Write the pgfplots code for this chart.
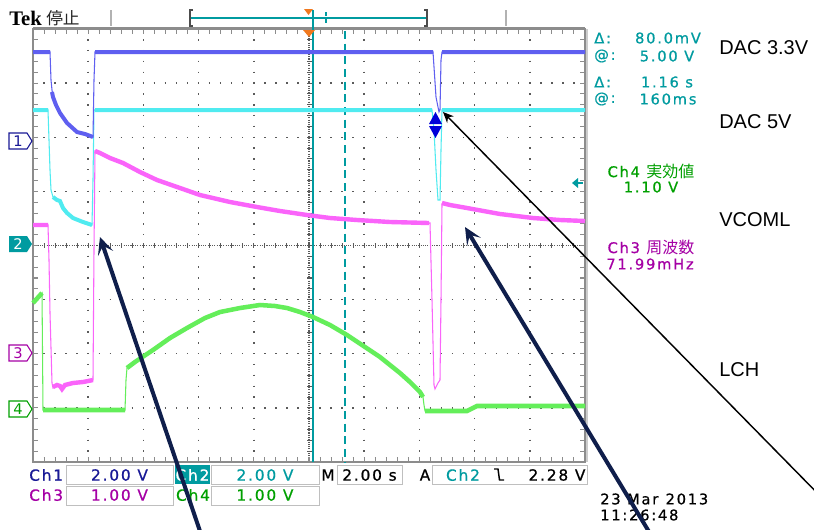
\documentclass[border=0pt]{standalone}
\usepackage{pgfplots}
\pgfplotsset{compat=1.18}
\usepackage{fontspec}
\setmainfont{DejaVu Sans}
\newfontfamily\tek[LetterSpace=12,FakeBold=0.7]{DejaVu Sans}
\newfontfamily\lab{Liberation Sans}
\newfontfamily\tekser{Liberation Serif}
\newfontfamily\cjk{Noto Sans CJK JP}
\usetikzlibrary{arrows.meta}
\definecolor{cha}{RGB}{95,95,240}
\definecolor{chb}{RGB}{80,235,240}
\definecolor{chc}{RGB}{250,100,250}
\definecolor{chd}{RGB}{100,238,90}
\definecolor{teal2}{RGB}{0,155,160}
\definecolor{tgreen}{RGB}{0,160,0}
\definecolor{tmag}{RGB}{165,0,165}
\definecolor{tblue}{RGB}{25,25,150}
\definecolor{navy2}{RGB}{15,30,75}
\definecolor{orng}{RGB}{240,120,30}
\definecolor{framec}{RGB}{140,140,140}
\definecolor{gdot}{RGB}{90,90,90}
\begin{document}
\begin{tikzpicture}
\useasboundingbox (0,0) rectangle (610.5pt,-396.75pt);
\fill[white] (0,0) rectangle (610.5pt,-396.75pt);
\begin{scope}[x=0.75pt,y=-0.75pt]
% graticule
\foreach \i in {1,2,3,4,6,7,8,9} {
  \draw[gdot, line width=1.1pt, dash pattern=on 1.1pt off 7.019pt, dash phase=0.55pt] ({33+55.2*\i},29) -- ({33+55.2*\i},462);
}
\foreach \j in {1,2,3,5,6,7} {
  \draw[gdot, line width=1.1pt, dash pattern=on 1.1pt off 7.18pt, dash phase=0.55pt] (33,{29+54.125*\j}) -- (585,{29+54.125*\j});
}
\draw[gdot, line width=0.8pt, dash pattern=on 0.8pt off 0.9pt] (33,245.5) -- (585,245.5);
\draw[gdot, line width=0.8pt, dash pattern=on 0.8pt off 0.9pt] (309,29) -- (309,462);
\draw[gdot, line width=3.75pt, dash pattern=on 0.8pt off 7.48pt, dash phase=0.4pt] (33,245.5) -- (585,245.5);
\draw[gdot, line width=3.75pt, dash pattern=on 0.8pt off 7.319pt, dash phase=0.4pt] (309,29) -- (309,462);
% frame ticks
\draw[framec, line width=3pt, dash pattern=on 0.8pt off 7.48pt, dash phase=0.4pt] (33,32) -- (585,32);
\draw[framec, line width=3pt, dash pattern=on 0.8pt off 7.48pt, dash phase=0.4pt] (33,459) -- (585,459);
\draw[framec, line width=3pt, dash pattern=on 0.8pt off 7.319pt, dash phase=0.4pt] (36,29) -- (36,462);
\draw[framec, line width=3pt, dash pattern=on 0.8pt off 7.319pt, dash phase=0.4pt] (582,29) -- (582,462);
\draw[framec, line width=1.6pt] (33,29) rectangle (585,462);
\draw[framec, line width=1.2pt] (33,28) -- (585,28);
\draw[black!20, line width=1.5pt] (586.5,29) -- (586.5,462);
% top bar
\draw[gray!60, line width=1.5pt] (111,10) -- (111,26);
\draw[gray!60, line width=1.5pt] (506,10) -- (506,26);
\draw[teal2, line width=1pt] (190,18) -- (427,18);
\draw[black!70, line width=1.1pt] (193,10) -- (190,10) -- (190,26) -- (193,26);
\draw[black!70, line width=1.1pt] (424,10) -- (427,10) -- (427,26) -- (424,26);
\draw[teal2, line width=0.9pt, dash pattern=on 3pt off 2pt] (326,12) -- (326,25);
\fill[orng] (304,9) -- (313,9) -- (308.5,15) -- cycle;
% cursors
\draw[teal2, line width=0.9pt] (313,10) -- (313,462);
\draw[teal2, line width=0.9pt, dash pattern=on 6pt off 3.5pt] (345,31) -- (345,462);
\fill[orng] (303,30) -- (315,30) -- (309,37) -- cycle;
\end{scope}

\begin{axis}[at={(24.75pt,-346.5pt)}, anchor=south west, scale only axis,
  width=414pt, height=324.75pt, xmin=33, xmax=585, ymin=29, ymax=462,
  y dir=reverse, hide axis, clip=false, unbounded coords=jump]
% Ch4 (LCH)
\addplot[chd, line width=0.8pt] coordinates {(33,303) (42,293) (42.5,350) (43,410) (125,410) (126,380) (127,368) (135,362) (153,350) (170,338) (187,328) (205,318) (220,312) (240,308) (260,305) (275,306) (287,308) (300,312) (313,317) (330,325) (347,335) (365,347) (380,357) (400,373) (410,382) (420,392) (423,397) (424,405) (425,411) (467,411) (477,406) (585,406)};
\addplot[chd, line width=3.4pt] coordinates {(33,303) (42,293) (42.5,nan) (43,410) (125,410) (126,nan) (127,368) (135,362) (153,350) (170,338) (187,328) (205,318) (220,312) (240,308) (260,305) (275,306) (287,308) (300,312) (313,317) (330,325) (347,335) (365,347) (380,357) (400,373) (410,382) (420,392) (423,397) (424,nan) (425,411) (467,411) (477,406) (585,406)};
% Ch3 (VCOML)
\addplot[chc, line width=0.8pt] coordinates {(33,225) (48,225) (49,260) (50,313) (52,383) (53,388) (57,385) (60,386) (62,390) (65,385) (73,383) (83,382) (93,380) (94,250) (95,151) (100,153) (110,158) (123,163) (140,172) (157,180) (180,188) (200,195) (230,202) (257,207) (280,211) (307,215) (330,218) (357,220) (390,222) (430,223) (432,300) (434,385) (435,389) (438,383) (440,380) (441,300) (442,204) (450,205) (467,208) (500,214) (533,218) (560,220) (585,221)};
\addplot[chc, line width=3.3pt] coordinates {(33,225) (48,225) (50,nan) (53,387) (57,385) (60,386) (62,389) (65,385) (73,383) (83,382) (93,380) (94,nan) (95,151) (100,153) (110,158) (123,163) (140,172) (157,180) (180,188) (200,195) (230,202) (257,207) (280,211) (307,215) (330,218) (357,220) (390,222) (429,223) (435,nan) (442,203) (450,205) (467,208) (500,214) (533,218) (560,220) (585,221)};
% Ch2 (DAC 5V)
\addplot[chb, line width=0.8pt] coordinates {(33,110) (48,110) (49,140) (50,170) (51,190) (53,197) (57,200) (60,201) (63,208) (67,213) (73,218) (83,222) (92,225) (93,180) (94,110) (432,110) (434,130) (436,170) (438,200) (440,200) (441,150) (442,110) (585,110)};
\addplot[chb, line width=3pt] coordinates {(33,110) (48,110) (50,nan) (53,197) (57,200) (60,201) (63,208) (67,213) (73,218) (83,222) (92,225) (93,nan) (95,110) (432,110) (436,nan) (442,110) (585,110)};
% Ch1 (DAC 3.3V)
\addplot[cha, line width=0.8pt] coordinates {(33,52) (50,52) (51,80) (52,90) (53,97) (56,105) (60,113) (67,123) (77,132) (85,134) (93,137) (94,80) (95,52) (433,52) (436,97) (439,112) (440,110) (441,60) (442,52) (585,52)};
\addplot[cha, line width=3pt] coordinates {(33,52) (50,52) (51,nan) (52,92) (53,97) (56,105) (60,113) (67,123) (77,132) (85,134) (93,137) (94,nan) (95,52) (433,52) (436,nan) (442,52) (585,52)};
\end{axis}

\begin{scope}[x=0.75pt,y=-0.75pt]
\tikzset{ro/.style={inner sep=0, teal2, font=\tek\fontsize{11}{12}\selectfont},
  bl/.style={inner sep=0, anchor=west, font=\lab\fontsize{15}{18}\selectfont},
  bt/.style={inner sep=0, font=\tek\fontsize{11.5}{13}\selectfont},
  mk/.style={inner sep=0, font=\fontsize{11}{12}\selectfont}}
% title
\node[anchor=base west, inner sep=0, font=\tekser\bfseries\fontsize{15.5}{16}\selectfont] at (9,25) {Tek};
\node[anchor=base west, inner sep=0, font=\cjk\fontsize{12.5}{13}\selectfont, black!85] at (46,24) {停止};
% channel markers
\draw[tblue, line width=0.8pt] (9,133) -- (27,133) -- (32,141) -- (27,149) -- (9,149) -- cycle;
\node[mk, tblue] at (18,141) {1};
\fill[teal2] (9,236) -- (27,236) -- (32,244) -- (27,252) -- (9,252) -- cycle;
\node[mk, white] at (18,244) {2};
\draw[tmag, line width=0.8pt] (9,345) -- (27,345) -- (32,353) -- (27,361) -- (9,361) -- cycle;
\node[mk, tmag] at (18,353) {3};
\draw[tgreen, line width=0.8pt] (9,401) -- (27,401) -- (32,409) -- (27,417) -- (9,417) -- cycle;
\node[mk, tgreen] at (18,409) {4};
% cursor marker and trigger level
\fill[blue!85!black] (429,124) -- (442,124) -- (435.5,112) -- cycle;
\fill[blue!85!black] (429,126) -- (442,126) -- (435.5,138) -- cycle;
\fill[teal2] (572,183) -- (578,178) -- (578,188) -- cycle;
\draw[teal2, line width=1pt] (578,183) -- (583,183);
% readouts
\node[ro, anchor=west] at (594,38) {Δ:};
\node[ro] at (668,38) {80.0mV};
\node[ro, anchor=west] at (594,56) {@:};
\node[ro] at (667,56) {5.00 V};
\node[ro, anchor=west] at (594,82) {Δ:};
\node[ro] at (667,82) {1.16 s};
\node[ro, anchor=west] at (594,99) {@:};
\node[ro] at (668,99) {160ms};
\node[inner sep=0, tgreen, font=\fontsize{11}{12}\selectfont] at (651,171) {{\tek Ch4\ }{\cjk\fontsize{12}{13}\selectfont 実効値}};
\node[inner sep=0, tgreen, font=\tek\fontsize{11}{12}\selectfont] at (651,187) {1.10 V};
\node[inner sep=0, tmag, font=\fontsize{11}{12}\selectfont] at (651,247) {{\tek Ch3\ }{\cjk\fontsize{12}{13}\selectfont 周波数}};
\node[inner sep=0, tmag, font=\tek\fontsize{11}{12}\selectfont] at (650,264) {71.99mHz};
% labels
\node[bl] at (719,48) {DAC 3.3V};
\node[bl] at (719,122) {DAC 5V};
\node[bl] at (719,220) {VCOML};
\node[bl] at (719,370) {LCH};
% bottom readouts
\node[bt, tblue, anchor=west] at (29,475) {Ch1};
\draw[black!25, line width=0.75pt] (66,465) rectangle (173,484);
\node[bt, tblue] at (119.5,475) {2.00 V};
\fill[teal2] (175,465) rectangle (210,484);
\node[bt, white] at (192.5,475) {Ch2};
\draw[black!25, line width=0.75pt] (211,465) rectangle (319,484);
\node[bt, teal2] at (265,475) {2.00 V};
\node[bt] at (328,475) {M};
\draw[black!25, line width=0.75pt] (337,465) rectangle (402,484);
\node[bt] at (369.5,475) {2.00 s};
\node[bt] at (425,475) {A};
\draw[black!25, line width=0.75pt] (432,465) rectangle (587,484);
\node[bt, teal2] at (463,475) {Ch2};
\draw[black, line width=1.1pt] (494,469) -- (498,469) -- (499.5,480) -- (504,480);
\node[bt] at (557,475) {2.28 V};
\node[bt, tmag, anchor=west] at (29,495) {Ch3};
\draw[black!25, line width=0.75pt] (66,486) rectangle (173,505);
\node[bt, tmag] at (119.5,495) {1.00 V};
\node[bt, tgreen] at (193,495) {Ch4};
\draw[black!25, line width=0.75pt] (211,486) rectangle (319,505);
\node[bt, tgreen] at (265,495) {1.00 V};
\node[inner sep=0, anchor=west, font=\tek\fontsize{11}{12}\selectfont] at (600,499) {23 Mar\enspace 2013};
\node[inner sep=0, anchor=west, font=\tek\fontsize{11}{12}\selectfont] at (600,515) {11:26:48};
% annotation arrows
\begin{scope}
\clip (0,0) rectangle (814,529);
\draw[navy2, line width=3pt, -{Stealth[length=13pt,width=12pt,inset=6pt]}] (203,540) -- (100,237);
\draw[navy2, line width=3pt, -{Stealth[length=13pt,width=12pt,inset=6pt]}] (654,540) -- (465,227);
\draw[black, line width=1.1pt, -{Stealth[length=8pt,width=7pt]}] (830,506) -- (443,112);
\end{scope}
\end{scope}
\end{tikzpicture}
\end{document}
